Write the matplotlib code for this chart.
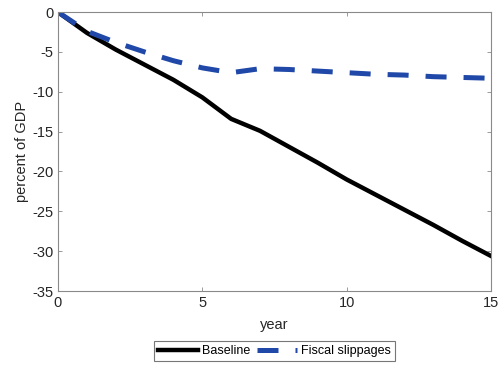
import matplotlib
matplotlib.use("Agg")
import matplotlib.pyplot as plt

years = list(range(16))
baseline = [0, -2.6, -4.7, -6.6, -8.5, -10.7, -13.4, -14.9, -16.9, -18.9,
            -21.0, -22.9, -24.8, -26.7, -28.7, -30.6]
fiscal_slippages = [0, -2.4, -3.8, -5.0, -6.1, -7.0, -7.6, -7.1, -7.2, -7.4,
                    -7.6, -7.8, -7.9, -8.1, -8.2, -8.3]

plt.rcParams["font.family"] = ["Liberation Sans", "DejaVu Sans"]
plt.rcParams["axes.unicode_minus"] = False

fig = plt.figure(figsize=(5.03, 3.67), dpi=100)
ax = fig.add_axes([0.1153, 0.207, 0.8608, 0.760])

ax.plot(years, baseline, color="black", lw=3.2, label="Baseline")
ax.plot(years, fiscal_slippages, color="#1f48a8", lw=3.6, dashes=(4.2, 3.4),
        label="Fiscal slippages")

ax.set_xlim(0, 15)
ax.set_ylim(-35, 0)
ax.set_xticks([0, 5, 10, 15])
ax.set_yticks(range(-35, 1, 5))
ax.set_xlabel("year", fontsize=10.5, color="#262626", labelpad=6)
ax.set_ylabel("percent of GDP", fontsize=10.5, color="#262626", labelpad=2)

for s in ax.spines.values():
    s.set_color("#8a8a8a")
    s.set_linewidth(0.8)
ax.tick_params(direction="in", length=3, width=0.6, color="#8a8a8a",
               labelcolor="#262626", labelsize=10.5, top=True, right=True,
               labeltop=False, labelright=False)

leg = ax.legend(loc="upper center", bbox_to_anchor=(0.5, -0.18), ncol=2,
                frameon=True, fancybox=False, fontsize=9, handlelength=3.2,
                handletextpad=0.3, columnspacing=0.6, borderpad=0.3,
                borderaxespad=0)
leg.get_frame().set_edgecolor("#555555")
leg.get_frame().set_linewidth(0.8)

fig.savefig("out.png", dpi=100)
